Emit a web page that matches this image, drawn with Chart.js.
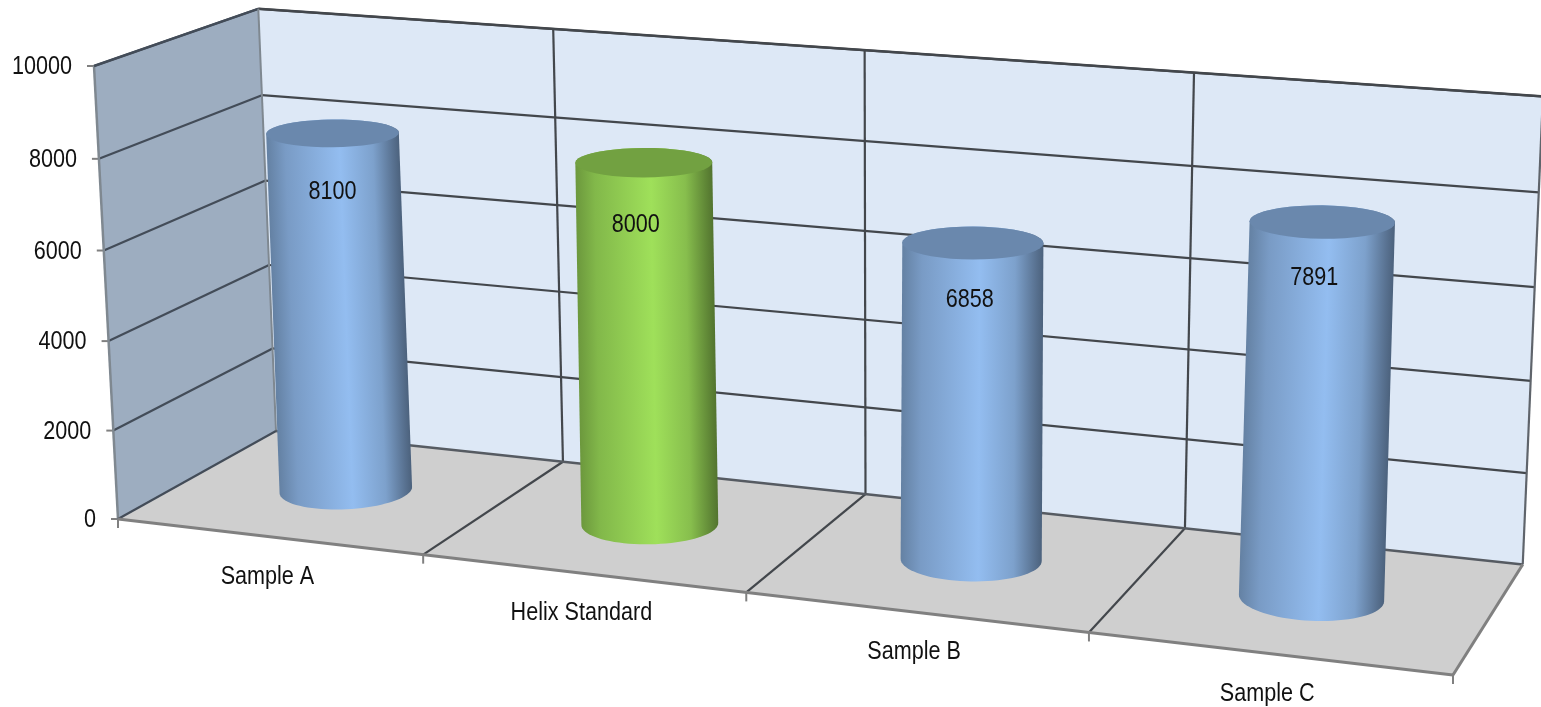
<!DOCTYPE html>
<html>
<head>
<meta charset="utf-8">
<title>Sample comparison</title>
<script src="https://cdn.jsdelivr.net/npm/chart.js@4"></script>
<style>
  html, body { margin: 0; padding: 0; background: #fff; overflow: hidden; }
  canvas { display: block; }
</style>
</head>
<body>
<canvas id="grafico" width="1541" height="707"></canvas>
<script>
// dados do grafico
var categorias = ['Sample A', 'Helix Standard', 'Sample B', 'Sample C'];
var valores = [8100, 8000, 6858, 7891];
var cores = ['#93bdf0', '#9fe05a', '#93bdf0', '#93bdf0'];
var eixoMax = 10000;
var eixoPasso = 2000;

// camera da caixa 3d: cantos na tela e pesos da perspectiva
var origem = [118, 519];
var cantoU = [1453, 675];
var cantoV = [94, 66];
var cantoD = [276, 431];
var pesoU = 0.889, pesoV = 0.97, pesoD = 1.077;
var fonte = '26px "Liberation Sans", sans-serif';
var apertoFonte = 0.83; // a fonte original e mais estreita

// ajuste fino dos rotulos dentro dos cilindros
var rotuloDx = [0, -8, -3, -8];
var rotuloDy = [58, 62, 57, 56];

function projetar(u, v, d) {
    var w = 1 + u * (pesoU - 1) + v * (pesoV - 1) + d * (pesoD - 1);
    var p = [0, 1].map(function (k) {
        return origem[k] + u * (pesoU * cantoU[k] - origem[k]) + v * (pesoV * cantoV[k] - origem[k]) + d * (pesoD * cantoD[k] - origem[k]);
    });
    return { x: p[0] / w, y: p[1] / w };
}

function linha(ctx, a, b, cor, largura) {
    ctx.beginPath();
    ctx.moveTo(a.x, a.y);
    ctx.lineTo(b.x, b.y);
    ctx.strokeStyle = cor;
    ctx.lineWidth = largura;
    ctx.stroke();
}

function poligono(ctx, pts, cor) {
    ctx.beginPath();
    pts.forEach(function (p, i) { i ? ctx.lineTo(p.x, p.y) : ctx.moveTo(p.x, p.y); });
    ctx.closePath();
    ctx.fillStyle = cor;
    ctx.fill();
}

function texto(ctx, s, x, y, alinhar) {
    ctx.save();
    ctx.translate(x, y);
    ctx.scale(apertoFonte, 1);
    ctx.font = fonte;
    ctx.fillStyle = '#111';
    ctx.textAlign = alinhar;
    ctx.textBaseline = 'middle';
    ctx.fillText(s, 0, 0);
    ctx.restore();
}

function escurecer(hex, f) {
    var n = parseInt(hex.slice(1), 16);
    var c = [n >> 16, (n >> 8) & 255, n & 255];
    return 'rgb(' + c.map(function (x) { return Math.round(x * f); }).join(',') + ')';
}

// eixo, paredes e chao, posicionados pelas escalas do chart
function desenharCaixa(chart) {
    var ctx = chart.ctx, area = chart.chartArea;
    var sx = chart.scales.x, sy = chart.scales.y;
    var uDe = function (px) { return (px - area.left) / area.width; };
    var vDe = function (py) { return (area.bottom - py) / area.height; };
    var n = categorias.length;
    var metade = (sx.getPixelForValue(1) - sx.getPixelForValue(0)) / 2;

    poligono(ctx, [projetar(0, 0, 0), projetar(0, 1, 0), projetar(0, 1, 1), projetar(0, 0, 1)], '#9dadc0');
    poligono(ctx, [projetar(0, 0, 1), projetar(0, 1, 1), projetar(1, 1, 1), projetar(1, 0, 1)], '#dde8f6');
    poligono(ctx, [projetar(0, 0, 0), projetar(1, 0, 0), projetar(1, 0, 1), projetar(0, 0, 1)], '#cfcfcf');

    sy.ticks.forEach(function (t) {
        var v = vDe(sy.getPixelForValue(t.value));
        if (v > 0) {
            linha(ctx, projetar(0, v, 0), projetar(0, v, 1), '#434c58', 2.2);
            linha(ctx, projetar(0, v, 1), projetar(1, v, 1), '#43474c', 2.2);
        }
        var p = projetar(0, v, 0);
        linha(ctx, { x: p.x - 7, y: p.y }, p, '#808080', 2);
        texto(ctx, String(t.value), p.x - 22, p.y + 1, 'right');
    });

    for (var i = 0; i <= n; i++) {
        var u = uDe(i < n ? sx.getPixelForValue(i) - metade : sx.getPixelForValue(n - 1) + metade);
        if (i > 0 && i < n) {
            linha(ctx, projetar(u, 0, 1), projetar(u, 1, 1), '#43474c', 2.2);
            linha(ctx, projetar(u, 0, 0), projetar(u, 0, 1), '#43474c', 2.2);
        }
        var f = projetar(u, 0, 0);
        linha(ctx, f, { x: f.x, y: f.y + 9 }, '#808080', 2);
    }

    linha(ctx, projetar(0, 0, 0), projetar(0, 1, 0), '#7f8890', 2.5);
    linha(ctx, projetar(0, 1, 0), projetar(0, 1, 1), '#434c58', 2.4);
    linha(ctx, projetar(0, 1, 1), projetar(1, 1, 1), '#43474c', 2.4);
    linha(ctx, projetar(0, 0, 1), projetar(0, 1, 1), '#7f8890', 2);
    linha(ctx, projetar(1, 0, 1), projetar(1, 1, 1), '#5f646b', 2.2);
    linha(ctx, projetar(0, 0, 0), projetar(0, 0, 1), '#434c58', 2.2);
    linha(ctx, projetar(0, 0, 1), projetar(1, 0, 1), '#565b62', 2.4);
    linha(ctx, projetar(0, 0, 0), projetar(1, 0, 0), '#808080', 3);
    linha(ctx, projetar(1, 0, 0), projetar(1, 0, 1), '#808080', 3);

    categorias.forEach(function (nome, i) {
        var p = projetar(uDe(sx.getPixelForValue(i)), 0, 0);
        texto(ctx, nome, p.x - 1, p.y + 40, 'center');
    });
}

// elipse de tela de um disco do cilindro: a altura vem do disco projetado
function disco(u, v, largura, inclinacao) {
    var ymin = Infinity, ymax = -Infinity;
    for (var a = 0; a < 72; a++) {
        var t = a / 72 * Math.PI * 2;
        var p = projetar(u + 0.05 * Math.cos(t), v, 0.5 + 0.2 * Math.sin(t));
        ymin = Math.min(ymin, p.y);
        ymax = Math.max(ymax, p.y);
    }
    return { x: projetar(u, v, 0.5).x, y: (ymin + ymax) / 2, rx: largura, ry: (ymax - ymin) / 2, rot: inclinacao };
}

function arco(e, de, ate) {
    var pts = [];
    for (var i = 0; i <= 40; i++) {
        var t = de + (ate - de) * i / 40;
        var lx = e.rx * Math.cos(t), ly = e.ry * Math.sin(t);
        pts.push({
            x: e.x + lx * Math.cos(e.rot) - ly * Math.sin(e.rot),
            y: e.y + lx * Math.sin(e.rot) + ly * Math.cos(e.rot)
        });
    }
    return pts;
}

function desenharCilindro(chart, el, i) {
    var ctx = chart.ctx, area = chart.chartArea;
    var u = (el.x - area.left) / area.width;
    var v = (area.bottom - el.y) / area.height;
    var base = el.options.backgroundColor;
    var largura = el.width / 2 * (0.77 + 0.1 * u);

    // a base gira com a posicao na caixa, o topo quase nao
    var fundo = disco(u, 0, largura, (u - 0.5) * 0.13);
    var topo = disco(u, v, largura, (u - 0.5) * 0.03);

    var corpo = arco(fundo, 0, Math.PI).concat(arco(topo, Math.PI, Math.PI * 2));

    // gradiente perpendicular ao eixo do cilindro
    var ax = topo.x - fundo.x, ay = topo.y - fundo.y, len = Math.hypot(ax, ay);
    var nx = -ay / len, ny = ax / len;
    var mx = (topo.x + fundo.x) / 2, my = (topo.y + fundo.y) / 2;
    var g = ctx.createLinearGradient(mx - nx * largura, my - ny * largura, mx + nx * largura, my + ny * largura);
    g.addColorStop(0, escurecer(base, 0.68));
    g.addColorStop(0.14, escurecer(base, 0.82));
    g.addColorStop(0.55, base);
    g.addColorStop(0.8, escurecer(base, 0.85));
    g.addColorStop(0.95, escurecer(base, 0.6));
    g.addColorStop(1, escurecer(base, 0.52));
    poligono(ctx, corpo, g);
    poligono(ctx, arco(topo, 0, Math.PI * 2), escurecer(base, 0.72));

    texto(ctx, String(valores[i]), topo.x + rotuloDx[i], topo.y + rotuloDy[i], 'center');
}

var cena3d = {
    id: 'cena3d',
    beforeDatasetsDraw: function (chart) { desenharCaixa(chart); },
    beforeDatasetDraw: function (chart, args) { // troca o retangulo padrao pelo cilindro
        args.meta.data.forEach(function (el, i) {
            desenharCilindro(chart, el, i);
        });
        return false;
    }
};

var myChart = new Chart(document.getElementById('grafico').getContext('2d'), {
    type: 'bar',
    data: {
        labels: categorias,
        datasets: [{
            data: valores,
            backgroundColor: cores,
            barPercentage: 0.44,
            categoryPercentage: 1
        }]
    },
    plugins: [cena3d],
    options: {
        responsive: false,
        animation: false,
        devicePixelRatio: 1,
        layout: { padding: 0 },
        plugins: { legend: { display: false }, tooltip: { enabled: false } },
        scales: {
            x: { display: false },
            y: { display: false, min: 0, max: eixoMax, ticks: { stepSize: eixoPasso } }
        }
    }
});
</script>
</body>
</html>
